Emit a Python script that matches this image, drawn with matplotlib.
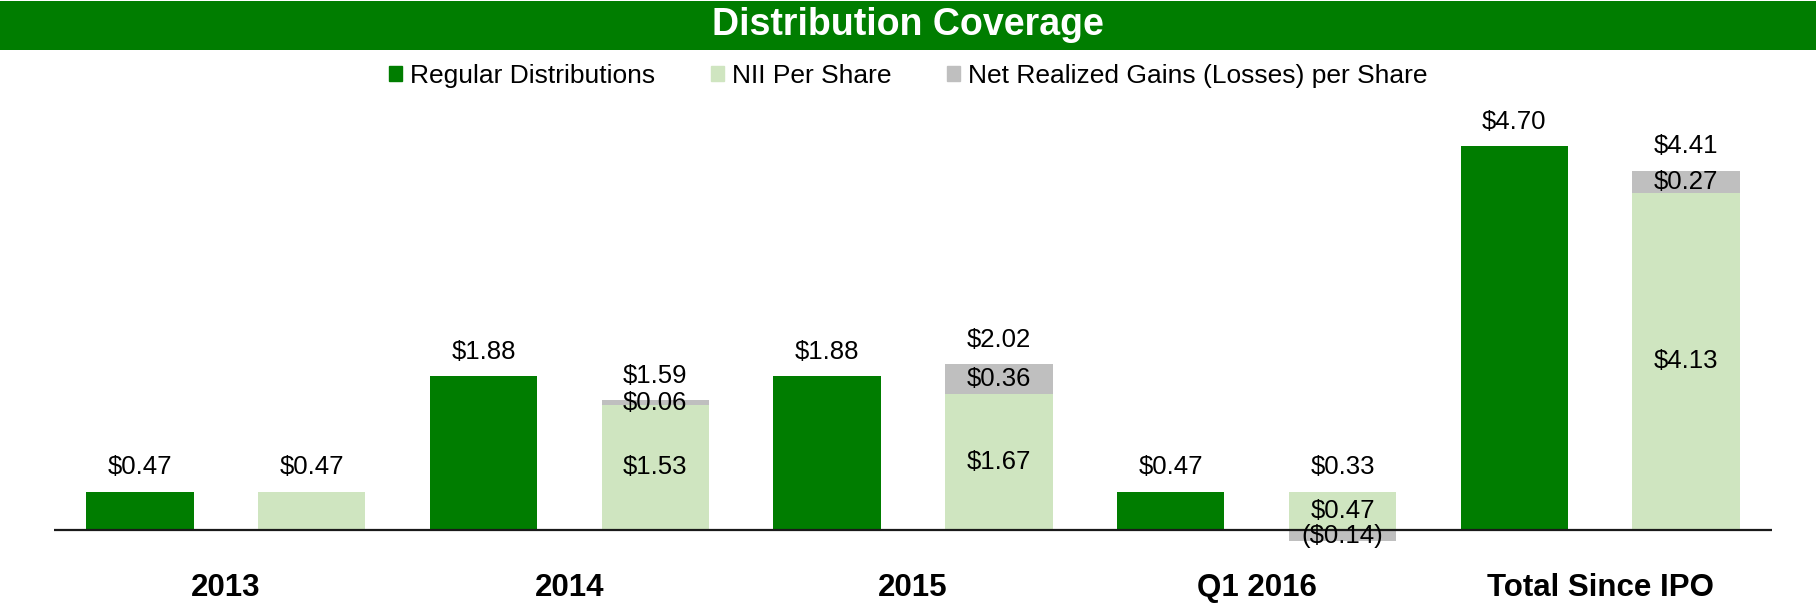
import matplotlib
matplotlib.use("Agg")
import matplotlib.pyplot as plt
import matplotlib.patches as mpatches
import matplotlib.transforms as mtransforms
import numpy as np

plt.rcParams['font.family'] = ['Liberation Sans', 'DejaVu Sans']

categories = ["2013", "2014", "2015", "Q1 2016", "Total Since IPO"]
regular = [0.47, 1.88, 1.88, 0.47, 4.70]
nii = [0.47, 1.53, 1.67, 0.47, 4.13]
gains = [0.0, 0.06, 0.36, -0.14, 0.27]
coverage = [0.47, 1.59, 2.02, 0.33, 4.41]
show_inner = [False, True, True, True, True]

series_names = ["Regular Distributions", "NII Per Share", "Net Realized Gains (Losses) per Share"]
c_dark = "#007D00"
c_light = "#CFE5C0"
c_gray = "#BFBFBF"

W, H = 1816, 607
fig = plt.figure(figsize=(W / 100, H / 100), dpi=100)

# title bar
fig.patches.append(mpatches.Rectangle((0, 1 - 50 / H), 1, 49 / H, transform=fig.transFigure,
                                      facecolor="#007D00", edgecolor="none", zorder=0))
fig.text(0.5, 1 - 25 / H, "Distribution Coverage", color="white", fontsize=27,
         fontweight="bold", ha="center", va="center")

left, right = 54, 1772
top, bottom = 100, 560
ax = fig.add_axes([left / W, 1 - bottom / H, (right - left) / W, (bottom - top) / H])
px_per_unit = 81.7
ax.set_ylim((530 - bottom) / px_per_unit, (530 - top) / px_per_unit)
ax.set_xlim(-0.5, 9.5)
ax.axis("off")

n = len(categories)
xg = np.arange(n) * 2
xl = xg + 1
bw = 0.624

nii_arr = np.array(nii)
gains_arr = np.array(gains)
ax.bar(xg, regular, bw, color=c_dark, edgecolor="none", zorder=2)
ax.bar(xl, nii_arr, bw, color=c_light, edgecolor="none", zorder=2)
g_bottom = np.where(gains_arr >= 0, nii_arr, 0)
ax.bar(xl, gains_arr, bw, bottom=g_bottom, color=c_gray, edgecolor="none", zorder=2)
ax.axhline(0, color="#1a1a1a", lw=1.6, zorder=3)

def money(v):
    return f"(${abs(v):.2f})" if v < 0 else f"${v:.2f}"

fs = 18.5
off = 24.5 * 72 / 100
for i in range(n):
    ax.annotate(money(regular[i]), (xg[i], regular[i]), xytext=(0, off), textcoords="offset points",
                ha="center", va="center", fontsize=fs, zorder=4)
    topv = nii[i] + max(gains[i], 0)
    ax.annotate(money(coverage[i]), (xl[i], topv), xytext=(0, off), textcoords="offset points",
                ha="center", va="center", fontsize=fs, zorder=4)
    if show_inner[i]:
        ax.text(xl[i], nii[i] / 2, money(nii[i]), ha="center", va="center", fontsize=fs, zorder=4)
        gy = g_bottom[i] + gains[i] / 2
        ax.text(xl[i], gy, money(gains[i]), ha="center", va="center", fontsize=fs, zorder=4)

trans = mtransforms.blended_transform_factory(ax.transData, fig.transFigure)
for i, c in enumerate(categories):
    ax.text(xg[i] + 0.5, 1 - 588 / H, c, transform=trans, ha="center", va="center",
            fontsize=22.5, fontweight="bold", clip_on=False)

handles = [mpatches.Patch(color=c) for c in (c_dark, c_light, c_gray)]
fig.legend(handles, series_names, loc="center", bbox_to_anchor=(0.5, 1 - 76 / H), ncol=3,
           frameon=False, fontsize=19, handlelength=0.5, handleheight=0.5, handletextpad=0.3,
           columnspacing=2.1, borderaxespad=0)

fig.savefig("out.png", dpi=100)
